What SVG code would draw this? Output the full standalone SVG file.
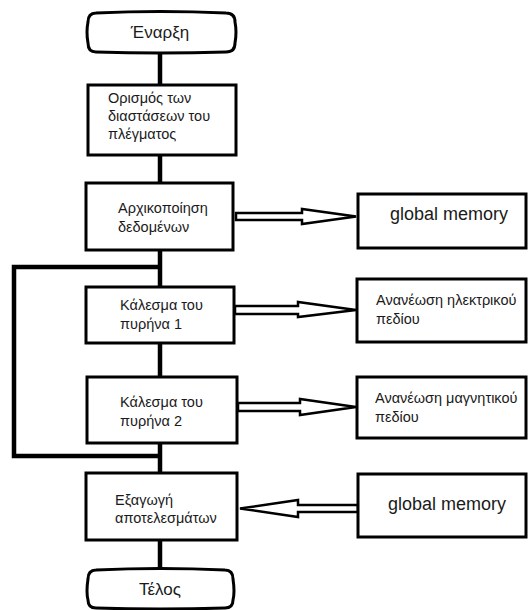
<svg xmlns="http://www.w3.org/2000/svg" width="528" height="610" viewBox="0 0 528 610">
<style>
.box{fill:#fff;stroke:#000;stroke-width:3}
.term{fill:#fff;stroke:#000;stroke-width:3}
.ln{fill:none;stroke:#000;stroke-width:4.5}
.arr{fill:#fff;stroke:#000;stroke-width:2.5;stroke-linejoin:miter}
text{font-family:"Liberation Sans",Arial,sans-serif;fill:#1a1a1a}
.t{font-size:14.5px}
.big{font-size:17px}
.gm{font-size:18px}
</style>
<rect width="528" height="610" fill="#fff"/>
<g id="connectors">
<line class="ln" x1="160" y1="52" x2="160" y2="85"/>
<line class="ln" x1="160" y1="155" x2="160" y2="183"/>
<line class="ln" x1="160" y1="250" x2="160" y2="287"/>
<line class="ln" x1="160" y1="343" x2="160" y2="377"/>
<line class="ln" x1="160" y1="443" x2="160" y2="473"/>
<line class="ln" x1="160" y1="540" x2="160" y2="570"/>
<polyline class="ln" points="160,267 14,267 14,456 160,456"/>
<polygon class="arr" points="236,213 302,213 302,209 356,216.5 302,224 302,220 236,220"/>
<polygon class="arr" points="235,306 298,306 298,302 356,310 298,317 298,314 235,314"/>
<polygon class="arr" points="238,403 300,403 300,399 356,407 300,415 300,411 238,411"/>
<polygon class="arr" points="358,505 298,505 298,500 240,508.5 298,517 298,512 358,512"/>
</g>
<g id="start">
<path class="term" d="M96,13 Q160,10 226,13 Q235,13 235,22 Q237,32 235,43 Q235,52 226,52 Q160,54 96,52 Q88,52 88,43 Q86,32 88,22 Q88,13 96,13 Z"/>
<text class="big" x="160" y="38" text-anchor="middle">Έναρξη</text>
</g>
<g id="n1">
<rect class="box" x="88" y="85" width="148" height="70"/>
<text class="t" x="108" y="103">Ορισμός των</text>
<text class="t" x="108" y="121">διαστάσεων του</text>
<text class="t" x="108" y="139">πλέγματος</text>
</g>
<g id="n2">
<rect class="box" x="86" y="183" width="147" height="67"/>
<text class="t" x="118" y="213">Αρχικοποίηση</text>
<text class="t" x="118" y="232">δεδομένων</text>
</g>
<g id="gm1">
<rect class="box" x="358" y="194" width="168" height="54"/>
<text class="gm" x="390" y="220">global memory</text>
</g>
<g id="n3">
<rect class="box" x="86" y="287" width="148" height="56"/>
<text class="t" x="120" y="310">Κάλεσμα του</text>
<text class="t" x="120" y="329">πυρήνα 1</text>
</g>
<g id="e">
<rect class="box" x="357" y="279" width="169" height="63"/>
<text class="t" x="376" y="305">Ανανέωση ηλεκτρικού</text>
<text class="t" x="376" y="324">πεδίου</text>
</g>
<g id="n4">
<rect class="box" x="87" y="377" width="150" height="66"/>
<text class="t" x="120" y="407">Κάλεσμα του</text>
<text class="t" x="120" y="426">πυρήνα 2</text>
</g>
<g id="m">
<rect class="box" x="357" y="377" width="169" height="61"/>
<text class="t" x="375" y="403">Ανανέωση μαγνητικού</text>
<text class="t" x="375" y="422">πεδίου</text>
</g>
<g id="n5">
<rect class="box" x="86" y="473" width="151" height="67"/>
<text class="t" x="115" y="505">Εξαγωγή</text>
<text class="t" x="115" y="523">αποτελεσμάτων</text>
</g>
<g id="gm2">
<rect class="box" x="358" y="474" width="168" height="63"/>
<text class="gm" x="388" y="510">global memory</text>
</g>
<g id="end">
<path class="term" d="M96,570 Q160,567 225,570 Q233,570 233,579 Q235,592 233,600 Q233,608 225,608 Q160,610 96,608 Q88,608 88,600 Q86,592 88,579 Q88,570 96,570 Z"/>
<text class="big" x="160" y="595" text-anchor="middle">Τέλος</text>
</g>
</svg>
